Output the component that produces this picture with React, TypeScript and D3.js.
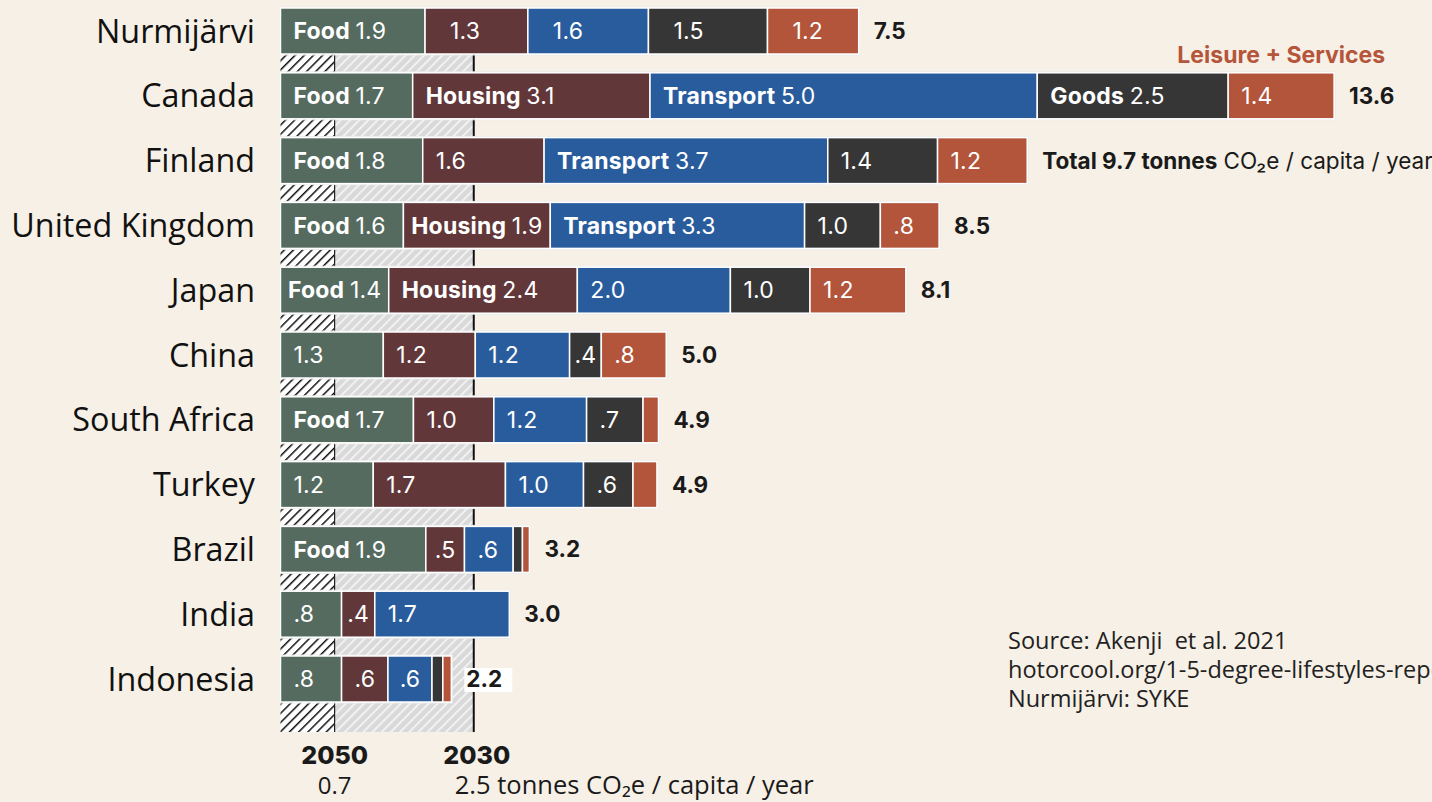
import React from "react";
import * as d3 from "d3";

const categories = ["Nurmijärvi", "Canada", "Finland", "United Kingdom", "Japan", "China", "South Africa", "Turkey", "Brazil", "India", "Indonesia"];
const food = [1.87, 1.71, 1.84, 1.59, 1.40, 1.33, 1.72, 1.20, 1.88, 0.79, 0.79];
const housing = [1.33, 3.07, 1.57, 1.90, 2.44, 1.19, 1.04, 1.71, 0.50, 0.43, 0.60];
const transport = [1.56, 5.01, 3.67, 3.29, 1.98, 1.22, 1.20, 1.01, 0.63, 1.74, 0.57];
const goods = [1.54, 2.47, 1.42, 0.98, 1.03, 0.41, 0.73, 0.64, 0.12, 0, 0.14];
const leisure = [1.18, 1.37, 1.16, 0.76, 1.24, 0.84, 0.20, 0.31, 0.09, 0, 0.11];
const totals = [7.5, 13.6, 9.7, 8.5, 8.1, 5.0, 4.9, 4.9, 3.2, 3.0, 2.2];
const segmentNames = ["Food", "Housing", "Transport", "Goods", "Leisure + Services"];
const showNames = [
  ["Food"],
  ["Food", "Housing", "Transport", "Goods"],
  ["Food", "Transport"],
  ["Food", "Housing", "Transport"],
  ["Food", "Housing"],
  [],
  ["Food"],
  [],
  ["Food"],
  [],
  [],
];
const target2050 = 0.7;
const target2030 = 2.5;
const sourceLines = ["Source: Akenji  et al. 2021", "hotorcool.org/1-5-degree-lifestyles-report", "Nurmijärvi: SYKE"];

const colors = ["#566b60", "#62373a", "#295c9c", "#363636", "#b2553b"];
const BG = "#f7f0e6";

let ctx: CanvasRenderingContext2D | null = null;
function measure(text: string, font: string, spacing: number) {
  if (!ctx) ctx = document.createElement("canvas").getContext("2d");
  if (!ctx) return text.length * 12;
  ctx.font = font;
  return ctx.measureText(text).width + spacing * text.length;
}
const fmt = (v: number) => {
  const s = d3.format(".1f")(v);
  return s.startsWith("0") ? s.slice(1) : s;
};

export default function App() {
  const W = 1432, H = 802;
  const x = d3.scaleLinear().domain([0, 13.6]).range([280.5, 280.5 + 13.6 * 77.3]);
  const y = d3.scaleBand<string>().domain(categories).range([8, 702]).paddingInner(0.29).paddingOuter(0);
  const bw = y.bandwidth();
  const series = [food, housing, transport, goods, leisure];
  const stack = categories.map((c, i) => {
    let acc = 0;
    return series.map((s, k) => {
      const v0 = acc;
      acc += s[i];
      return { k, v0, v1: acc, v: s[i] };
    });
  });
  const labelFont = "Inter, 'Noto Sans', sans-serif";
  const textFont = "'Open Sans', sans-serif";
  const fs = 23;
  const ls = 0.2;
  const hatchTop = y(categories[0])!;
  const hatchBottom = y(categories[categories.length - 1])! + bw + 30;

  return (
    <svg width={W} height={H} style={{ position: "absolute", left: 0, top: 0, background: BG }}>
      <defs>
        <pattern id="darkHatch" patternUnits="userSpaceOnUse" width={6.5} height={6.5} patternTransform="rotate(45)">
          <rect width={6.5} height={6.5} fill="#ffffff" />
          <line x1={0} y1={0} x2={0} y2={6.5} stroke="#111" strokeWidth={3} />
        </pattern>
        <pattern id="lightHatch" patternUnits="userSpaceOnUse" width={6.5} height={6.5} patternTransform="rotate(45)">
          <rect width={6.5} height={6.5} fill="#d9d9d9" />
          <line x1={0} y1={0} x2={0} y2={6.5} stroke="#f2f2f2" strokeWidth={4} />
        </pattern>
      </defs>
      <rect width={W} height={H} fill={BG} />
      <rect x={x(0)} y={hatchTop} width={x(target2050) - x(0)} height={hatchBottom - hatchTop} fill="url(#darkHatch)" />
      <rect x={x(target2050)} y={hatchTop} width={x(target2030) - x(target2050)} height={hatchBottom - hatchTop} fill="url(#lightHatch)" />
      <line x1={x(target2050)} x2={x(target2050)} y1={hatchTop} y2={hatchBottom} stroke="#222" strokeWidth={1.2} />
      <line x1={x(target2030)} x2={x(target2030)} y1={hatchTop} y2={hatchBottom} stroke="#111" strokeWidth={2} />

      {categories.map((c, i) => {
        const y0 = y(c)!;
        const cy = y0 + bw / 2;
        const sum = stack[i][4].v1;
        const end = x(sum);
        return (
          <g key={c}>
            <text x={255} y={cy} dy="0.36em" textAnchor="end" fontFamily={textFont} fontSize={32.3} fill="#111">{c}</text>
            <rect x={x(0) - 1} y={y0 - 1} width={end - x(0) + 2} height={bw + 2} fill="none" stroke="#ececec" strokeWidth={1} />
            {stack[i].map((s) => {
              if (s.v <= 0) return null;
              const sx = x(s.v0), w = x(s.v1) - x(s.v0);
              const name = showNames[i].includes(segmentNames[s.k]) ? segmentNames[s.k] : "";
              const val = fmt(s.v);
              const tw = (name ? measure(name + " ", `bold ${fs}px Inter`, ls) : 0) + measure(val, `${fs}px Inter`, ls);
              const pad = i === 0 && s.k > 0 ? 25 : 13;
              const tx = sx + Math.min(pad, (w - tw) / 2);
              return (
                <g key={s.k}>
                  <rect x={sx} y={y0} width={w} height={bw} fill={colors[s.k]} stroke="#fff" strokeWidth={1.5} />
                  {w >= 28 && (
                    <text x={tx} y={cy} dy="0.36em" fontFamily={labelFont} fontSize={fs} letterSpacing={ls} fill="#fff">
                      {name && <tspan fontWeight={700}>{name + " "}</tspan>}
                      <tspan>{val}</tspan>
                    </text>
                  )}
                </g>
              );
            })}
            {c === "Finland" ? (
              <text x={end + 15} y={cy} dy="0.36em" fontFamily={labelFont} fontSize={22.5} fill="#1a1a1a">
                <tspan fontWeight={700}>{`Total ${d3.format(".1f")(totals[i])} tonnes`}</tspan>
                <tspan>{" CO₂e / capita / year"}</tspan>
              </text>
            ) : (
              <g>
                {c === "Indonesia" && <rect x={end + 13} y={cy - 11} width={48} height={24} fill="#fff" />}
                <text x={end + 15} y={cy} dy="0.36em" fontFamily={labelFont} fontWeight={700} fontSize={22.5} fill="#1a1a1a">{d3.format(".1f")(totals[i])}</text>
              </g>
            )}
          </g>
        );
      })}

      <text x={x(stack[1][4].v1) + 51} y={63} textAnchor="end" fontFamily={labelFont} fontWeight={700} fontSize={23} fill="#b5553a">{segmentNames[4]}</text>

      <text x={x(target2050)} y={764} textAnchor="middle" fontFamily={labelFont} fontWeight={800} fontSize={25} fill="#1a1a1a">2050</text>
      <text x={x(target2050)} y={794} textAnchor="middle" fontFamily={textFont} fontSize={24} fill="#1a1a1a">{String(target2050)}</text>
      <text x={x(target2030) + 3} y={764} textAnchor="middle" fontFamily={labelFont} fontWeight={800} fontSize={25} fill="#1a1a1a">2030</text>
      <text x={x(target2030) - 19} y={794} fontFamily={textFont} fontSize={25.5} fill="#1a1a1a">{`${target2030} tonnes CO₂e / capita / year`}</text>

      {sourceLines.map((t, j) => (
        <text key={j} x={1008} y={649 + j * 29} fontFamily={textFont} fontSize={23.5} fill="#222" style={{ whiteSpace: "pre" }}>{t}</text>
      ))}
    </svg>
  );
}
